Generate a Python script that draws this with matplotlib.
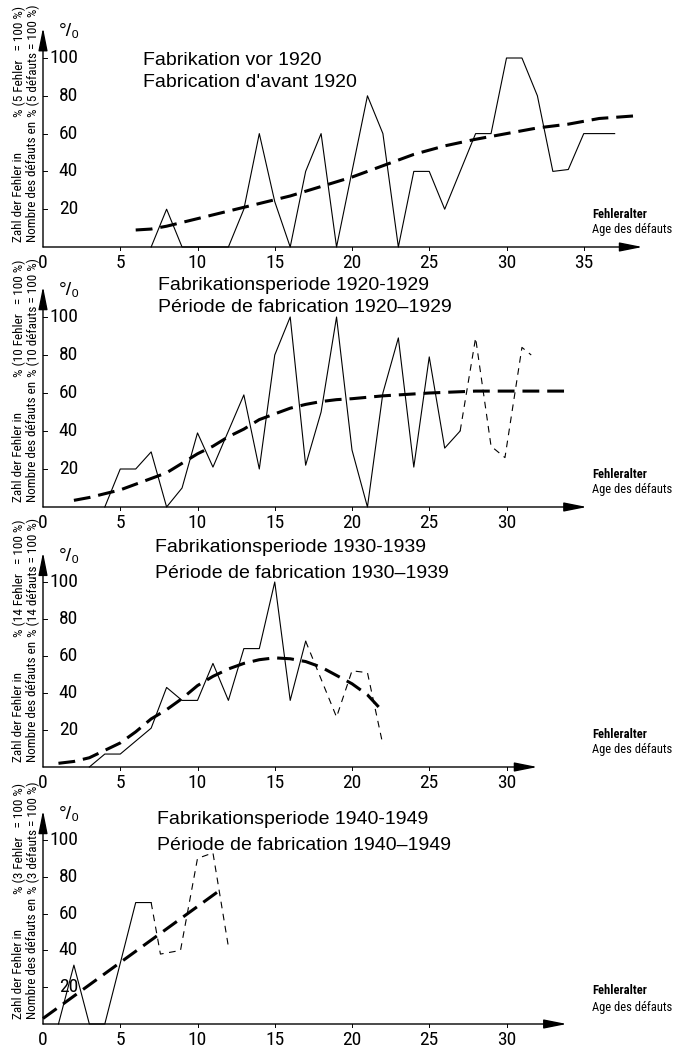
import matplotlib
matplotlib.use("Agg")
import matplotlib.pyplot as plt

# --- data (x = Fehleralter / age, y = % of failures) ---
p1_x = [7, 8, 9, 12, 13, 14, 15, 16, 17, 18, 19, 21, 22, 23, 24, 25, 26, 28, 29, 30, 31, 32, 33, 34, 35, 37]
p1_y = [0, 20, 0, 0, 20, 60, 24, 0, 40, 60, 0, 80, 60, 0, 40, 40, 20, 60, 60, 100, 100, 80, 40, 41, 60, 60]
p1_trend_x = [6, 7, 8, 10, 12, 14, 16, 18, 20, 22, 24, 26, 28, 30, 32, 34, 36, 38.5]
p1_trend_y = [9, 9.5, 11, 15, 19, 23, 27, 32, 37, 43, 49, 53.5, 57, 60, 63, 65, 68, 69.5]

p2_x = [4, 5, 6, 7, 8, 9, 10, 11, 12, 13, 14, 15, 16, 17, 18, 19, 20, 21, 22, 23, 24, 25, 26, 27]
p2_y = [0, 20, 20, 29, 0, 10, 39, 21, 40, 59, 20, 80, 100, 22, 50, 100, 30, 0, 60, 89, 21, 79, 31, 40]
p2_dash_x = [27, 28, 29, 29.9, 31, 31.6]
p2_dash_y = [40, 89, 32, 26, 84, 80]
p2_trend_x = [2, 3, 4, 5, 6, 7, 8, 9, 10, 11, 12, 13, 14, 15, 16, 17, 18, 19, 20, 22, 25, 28, 31, 34]
p2_trend_y = [3.5, 5, 7, 9, 12, 15, 18, 23, 28, 32, 37, 41, 46, 49, 52, 54, 55.5, 56.5, 57, 58.5, 60, 61, 61, 61]

p3_x = [3, 4, 5, 6, 7, 8, 9, 10, 11, 12, 13, 14, 15, 16, 17]
p3_y = [0, 7, 7, 14, 21, 43, 36, 36, 56, 36, 64, 64, 100, 36, 68]
p3_dash_x = [17, 19, 20, 21, 22]
p3_dash_y = [68, 27, 52, 51, 12]
p3_trend_x = [1, 2, 3, 4, 5, 6, 7, 8, 9, 10, 11, 12, 13, 14, 15, 16, 17, 18, 19, 20, 21, 22]
p3_trend_y = [2, 3, 5, 9, 13, 19, 26, 31, 37, 44, 49, 53, 56, 58, 59, 58.5, 57, 54, 49.5, 45, 39, 30]

p4_x = [1, 2, 3, 4, 6, 7]
p4_y = [0, 32, 0, 0, 66, 66]
p4_dash_x = [7, 7.6, 8.9, 10, 11, 12]
p4_dash_y = [66, 38, 40, 90, 93, 42]
p4_trend_x = [0, 11.5]
p4_trend_y = [3, 73]

titles = [("Fabrikation vor 1920", "Fabrication d'avant 1920"),
          ("Fabrikationsperiode 1920-1929", "Période de fabrication 1920\u20131929"),
          ("Fabrikationsperiode 1930-1939", "Période de fabrication 1930\u20131939"),
          ("Fabrikationsperiode 1940-1949", "Période de fabrication 1940\u20131949")]
n_fehler = ["5", "10", "14", "3"]
y_ticks = [20, 40, 60, 80, 100]

W, H = 688, 1048
X0 = 43        # pixel column of age 0
PX = 15.45     # pixels per year
NARROW = ["Roboto Condensed", "Liberation Sans"]
SANS = ["Liberation Sans", "DejaVu Sans"]

fig = plt.figure(figsize=(6.88, 10.48), dpi=100)
renderer = fig.canvas.get_renderer()


def panel(y0, sy, xend, xlab_max, title_px, title_left, series, dash, trend, n):
    ax = fig.add_axes([X0 / W, (H - y0) / H, 40 * PX / W, 100 * sy / H])
    ax.set_xlim(0, 40)
    ax.set_ylim(0, 100)
    ax.axis("off")
    dx = 1 / PX
    dy = 1 / sy
    arrow = dict(arrowstyle="-|>,head_length=1.0,head_width=0.2", color="k",
                 lw=1.0, mutation_scale=14, shrinkA=0, shrinkB=0)
    ax.annotate("", xy=(xend, 0), xytext=(0, 0), arrowprops=arrow, annotation_clip=False)
    ax.annotate("", xy=(0, 116), xytext=(0, 0), arrowprops=arrow, annotation_clip=False)
    for v in y_ticks:
        ax.plot([0, 4 * dx], [v, v], color="k", lw=0.7, clip_on=False)
        ax.text(35 * dx, v, str(v), ha="right", va="center", fontsize=14, family=NARROW)
    ax.text(1.7, 114, "°/₀", ha="center", va="center", fontsize=14, family=SANS)
    for v in range(0, xlab_max + 1, 5):
        if v > 0:
            ax.plot([v, v], [0, -3 * dy], color="k", lw=0.7, clip_on=False)
        ax.text(v, -16 * dy, str(v), ha="center", va="center", fontsize=14, family=NARROW)
    ax.plot(series[0], series[1], color="k", lw=0.8, clip_on=False)
    if dash is not None:
        ax.plot(dash[0], dash[1], color="k", lw=0.8, dashes=(6, 5), clip_on=False)
    ax.plot(trend[0], trend[1], color="k", lw=2.2, dashes=(5.5, 2.6), clip_on=False)
    # titles
    ax.text((title_left - X0) * dx, title_px[0] * dy, titles[n][0], ha="left", va="center",
            fontsize=14, family=SANS)
    ax.text((title_left - X0) * dx, title_px[1] * dy, titles[n][1], ha="left", va="center",
            fontsize=14, family=SANS)
    # axis name
    ax.text((592 - X0) * dx, 33 * dy, "Fehleralter", ha="left", va="center",
            fontsize=9, family=NARROW, fontweight="bold")
    ax.text((592 - X0) * dx, 17 * dy, "Age des défauts", ha="left", va="center",
            fontsize=9, family=NARROW)
    # rotated y label: two lines, the "% (...)" parts start at the same height
    k = n_fehler[n]
    lines = [(19, "Zahl der Fehler in", f"% ({k} Fehler   = 100 %)"),
             (33, "Nombre des défauts en", f"% ({k} défauts = 100 %)")]
    top = 0
    for xp, a, b in lines:
        t = fig.text(xp / W, 1 - (y0 - 5) / H, a, rotation=90, rotation_mode="anchor",
                     ha="left", va="center", fontsize=9.5, family=NARROW)
        top = max(top, t.get_window_extent(renderer).height)
    for xp, a, b in lines:
        fig.text(xp / W, 1 - (y0 - 5 - top - 4) / H, b, rotation=90, rotation_mode="anchor",
                 ha="left", va="center", fontsize=9.5, family=NARROW)
    return ax


panel(247, 1.89, 38.8, 35, (187, 165), 143, (p1_x, p1_y), None, (p1_trend_x, p1_trend_y), 0)
panel(507, 1.90, 35.2, 30, (222, 199), 158, (p2_x, p2_y), (p2_dash_x, p2_dash_y), (p2_trend_x, p2_trend_y), 1)
panel(767, 1.85, 32.0, 30, (220, 194), 155, (p3_x, p3_y), (p3_dash_x, p3_dash_y), (p3_trend_x, p3_trend_y), 2)
panel(1024, 1.84, 33.9, 30, (204, 179), 157, (p4_x, p4_y), (p4_dash_x, p4_dash_y), (p4_trend_x, p4_trend_y), 3)

fig.savefig("out.png", dpi=100, facecolor="white")
